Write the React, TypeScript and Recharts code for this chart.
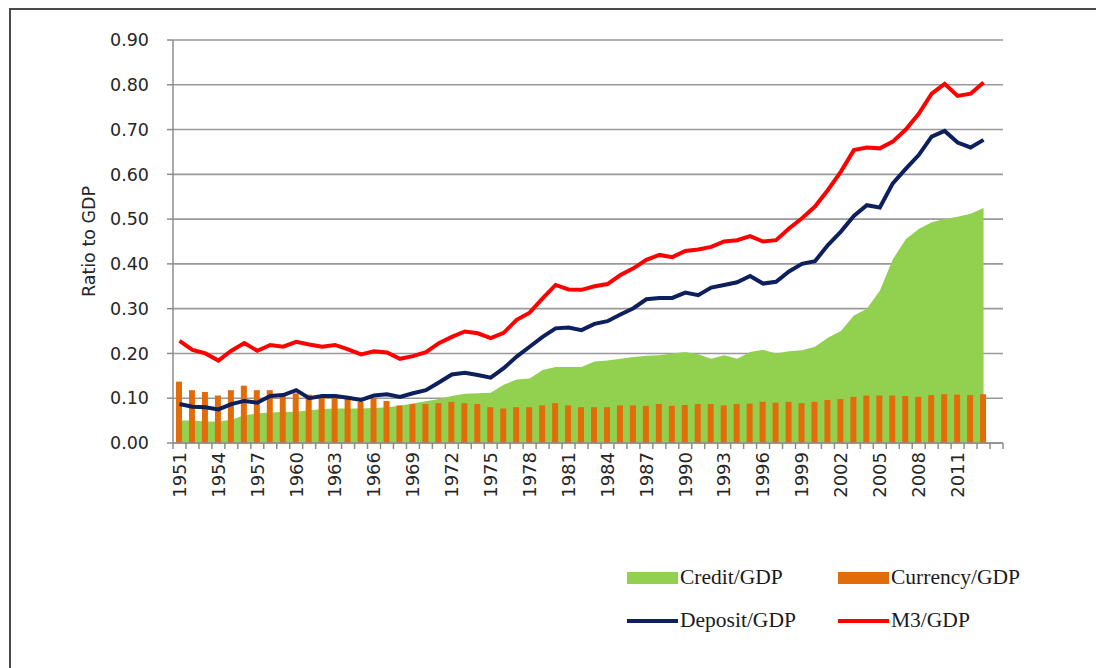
import {
  ComposedChart,
  CartesianGrid,
  XAxis,
  YAxis,
  Legend,
  Area,
  Bar,
  Line,
} from "recharts";

// categories: 1951..2014 (2014 is an empty slot at the end of the axis)
const years = Array.from({ length: 64 }, (_, i) => 1951 + i);

const credit = [
  0.05, 0.05, 0.048, 0.048, 0.052, 0.062, 0.066, 0.068, 0.069, 0.07, 0.073,
  0.076, 0.077, 0.077, 0.077, 0.078, 0.08, 0.083, 0.088, 0.093, 0.098, 0.105,
  0.11, 0.111, 0.112, 0.13, 0.142, 0.144, 0.163, 0.17, 0.17, 0.17, 0.182,
  0.184, 0.188, 0.192, 0.195, 0.196, 0.2, 0.203, 0.198, 0.188, 0.196, 0.188,
  0.203, 0.208, 0.2, 0.205, 0.207, 0.215, 0.235, 0.25, 0.285, 0.3, 0.34,
  0.41, 0.455, 0.478, 0.493, 0.5, 0.505, 0.512, 0.525,
];

const currency = [
  0.137, 0.118, 0.114, 0.106, 0.118, 0.128, 0.118, 0.118, 0.108, 0.111, 0.108,
  0.103, 0.109, 0.1, 0.092, 0.1, 0.094, 0.084, 0.087, 0.087, 0.089, 0.092,
  0.089, 0.087, 0.08, 0.077, 0.08, 0.08, 0.084, 0.089, 0.084, 0.08, 0.08,
  0.08, 0.084, 0.084, 0.083, 0.087, 0.083, 0.085, 0.087, 0.087, 0.084, 0.087,
  0.088, 0.092, 0.09, 0.092, 0.089, 0.092, 0.096, 0.098, 0.103, 0.106, 0.106,
  0.106, 0.105, 0.103, 0.107, 0.109, 0.108, 0.107, 0.109,
];

const deposit = [
  0.087, 0.081, 0.08, 0.075, 0.087, 0.094, 0.09, 0.105, 0.107, 0.118, 0.1,
  0.105, 0.105, 0.101, 0.096, 0.106, 0.109, 0.103, 0.111, 0.118, 0.135, 0.153,
  0.157, 0.152, 0.146, 0.167, 0.193, 0.215, 0.237, 0.256, 0.258, 0.252, 0.266,
  0.272, 0.287, 0.301, 0.321, 0.324, 0.324, 0.336, 0.33, 0.347, 0.353, 0.359,
  0.373, 0.356, 0.36, 0.383, 0.4, 0.406, 0.442, 0.472, 0.507, 0.531, 0.526,
  0.58, 0.612, 0.643, 0.684, 0.697, 0.671, 0.66, 0.677,
];

const m3 = [
  0.228, 0.208, 0.2, 0.184, 0.206, 0.223, 0.206, 0.219, 0.215, 0.226, 0.22,
  0.215, 0.219, 0.209, 0.198, 0.205, 0.202, 0.188, 0.194, 0.203, 0.223, 0.237,
  0.249, 0.245, 0.234, 0.246, 0.275, 0.291, 0.323, 0.353, 0.343, 0.342, 0.35,
  0.355, 0.375, 0.39, 0.409, 0.42, 0.415, 0.429, 0.432, 0.438, 0.45, 0.453,
  0.462, 0.45, 0.453, 0.479, 0.502, 0.528, 0.565, 0.606, 0.654, 0.66, 0.658,
  0.673, 0.7, 0.735, 0.78, 0.802, 0.775, 0.78, 0.805,
];

const yTicks = [0, 0.1, 0.2, 0.3, 0.4, 0.5, 0.6, 0.7, 0.8, 0.9];

const data = years.map((year, i) => ({
  year,
  credit: credit[i] ?? null,
  currency: currency[i] ?? null,
  deposit: deposit[i] ?? null,
  m3: m3[i] ?? null,
}));

const W = 1096;
const H = 668;
const MARGIN = { top: 40, right: 93, left: 73, bottom: 155 };
const Y_AXIS_W = 100;
const X_AXIS_H = 70;
const PLOT_W = W - MARGIN.left - MARGIN.right - Y_AXIS_W;
const STEP = PLOT_W / years.length;

const AXIS_GRAY = "#8c8c8c";
const TEXT = "#262626";
const TICK_FONT = "'DejaVu Sans', Verdana, sans-serif";

function YearTick(props: any) {
  const { x, y, payload, index } = props;
  const bx = x - STEP / 2;
  const showLabel = index % 3 === 0 && credit[index] !== undefined;
  return (
    <g>
      <line x1={bx} x2={bx} y1={y - 8} y2={y - 2} stroke={AXIS_GRAY} strokeWidth={1.5} />
      {index === years.length - 1 && (
        <line x1={x + STEP / 2} x2={x + STEP / 2} y1={y - 8} y2={y - 2} stroke={AXIS_GRAY} strokeWidth={1.5} />
      )}
      {showLabel && (
        <text
          x={x}
          y={y + 1}
          dy="0.35em"
          textAnchor="end"
          transform={`rotate(-90, ${x}, ${y + 1})`}
          fontFamily={TICK_FONT}
          fontSize={18}
          fill={TEXT}
        >
          {payload.value}
        </text>
      )}
    </g>
  );
}

function LegendGrid(props: any) {
  const items = props.payload || [];
  return (
    <div
      style={{
        display: "grid",
        gridTemplateColumns: "211px 211px",
        gridAutoRows: "43px",
        alignItems: "center",
        fontFamily: "'Liberation Serif', 'Times New Roman', serif",
        fontSize: 21.5,
        color: "#1a1a1a",
      }}
    >
      {items.map((it: any) => (
        <div key={it.value} style={{ display: "flex", alignItems: "center" }}>
          {it.type === "rect" ? (
            <span style={{ display: "inline-block", width: 51, height: 12, background: it.color }} />
          ) : (
            <span style={{ display: "inline-block", width: 51, height: 4, background: it.color }} />
          )}
          <span style={{ marginLeft: 2 }}>{it.value}</span>
        </div>
      ))}
    </div>
  );
}

export default function App() {
  return (
    <div
      style={{
        position: "absolute",
        left: 0,
        top: 0,
        width: W,
        height: H,
        overflow: "hidden",
        background: "#fff",
      }}
    >
      <div
        style={{
          position: "absolute",
          left: 9,
          top: 8,
          width: 1200,
          height: 800,
          border: "2px solid #4a4a4a",
        }}
      />
      <div style={{ position: "absolute", left: 0, top: 0 }}>
        <ComposedChart width={W} height={H} data={data} margin={MARGIN}>
          <CartesianGrid vertical={false} stroke="#999999" strokeWidth={1.6} />
          <XAxis
            dataKey="year"
            interval={0}
            height={X_AXIS_H}
            tickLine={false}
            axisLine={{ stroke: AXIS_GRAY, strokeWidth: 1.5 }}
            tick={<YearTick />}
          />
          <YAxis
            width={Y_AXIS_W}
            domain={[0, 0.9]}
            ticks={yTicks}
            tickFormatter={(v: number) => v.toFixed(2)}
            tickSize={6}
            tickMargin={18}
            axisLine={{ stroke: AXIS_GRAY, strokeWidth: 1.5 }}
            tickLine={{ stroke: AXIS_GRAY, strokeWidth: 1.5 }}
            tick={{ fontFamily: TICK_FONT, fontSize: 17.5, fill: TEXT }}
            label={{
              content: (p: any) => {
                const vb = p.viewBox;
                const cx = vb.x + 16;
                const cy = vb.y + vb.height / 2;
                return (
                  <text
                    x={cx}
                    y={cy}
                    dy="0.35em"
                    textAnchor="middle"
                    transform={`rotate(-90, ${cx}, ${cy})`}
                    fontFamily={TICK_FONT}
                    fontSize={17.5}
                    fill={TEXT}
                  >
                    Ratio to GDP
                  </text>
                );
              },
            }}
          />
          <Legend
            layout="vertical"
            align="center"
            verticalAlign="middle"
            content={<LegendGrid />}
            wrapperStyle={{ left: 627, top: 556, width: 440 }}
          />
          <Area
            name="Credit/GDP"
            dataKey="credit"
            type="linear"
            fill="#92D050"
            fillOpacity={1}
            stroke="none"
            legendType="rect"
            isAnimationActive={false}
          />
          <Bar
            name="Currency/GDP"
            dataKey="currency"
            fill="#E36C0A"
            barSize={6}
            legendType="rect"
            isAnimationActive={false}
          />
          <Line
            name="Deposit/GDP"
            dataKey="deposit"
            type="linear"
            stroke="#0E1F5E"
            strokeWidth={4}
            dot={false}
            activeDot={false}
            isAnimationActive={false}
          />
          <Line
            name="M3/GDP"
            dataKey="m3"
            type="linear"
            stroke="#FF0000"
            strokeWidth={4}
            dot={false}
            activeDot={false}
            isAnimationActive={false}
          />
        </ComposedChart>
      </div>
    </div>
  );
}
